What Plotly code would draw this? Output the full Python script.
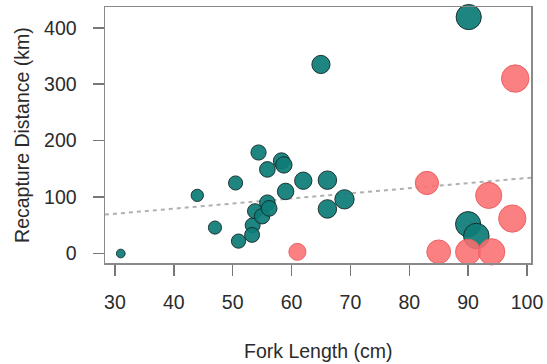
import plotly.graph_objects as go

# Teal group: fork length (cm) and recapture distance (km)
teal_fork_length = [31, 44, 47, 50.5, 51, 53.4, 53.3, 53.8, 55.0, 55.9, 56.2,
                    54.4, 55.9, 58.3, 58.7, 59.0, 62.0, 65.0, 66.1, 66.1, 69.0,
                    90.0, 91.4, 90.1]
teal_distance = [0, 103, 46, 125, 22, 50, 33, 75, 66, 90, 80,
                 179, 149, 164, 157, 110, 129, 335, 130, 79, 96,
                 52, 31, 419]

# Salmon group
salmon_fork_length = [61.0, 83.0, 85.0, 90.0, 94.0, 93.5, 97.5, 98.0]
salmon_distance = [3, 125, 3, 3, 3, 103, 62, 310]

# Trend line
trend_intercept = 43.3
trend_slope = 0.905

x_ticks = [30, 40, 50, 60, 70, 80, 90, 100]
y_ticks = [0, 100, 200, 300, 400]

x_range = [28.32, 100.68]
y_range = [-16.8, 436.8]

SIZE_SCALE = 0.28
FONT = "Liberation Sans, Arial, Helvetica, sans-serif"
TEXT_COLOR = "#2b2b2b"
FS = 19.5

fig = go.Figure()

fig.add_trace(go.Scatter(
    x=[x_range[0], x_range[1]],
    y=[trend_intercept + trend_slope * x_range[0], trend_intercept + trend_slope * x_range[1]],
    mode="lines",
    line=dict(color="#b0b0b0", width=2, dash="4px,4px"),
    hoverinfo="skip", showlegend=False,
))

fig.add_trace(go.Scatter(
    x=teal_fork_length, y=teal_distance, mode="markers",
    marker=dict(size=[v * SIZE_SCALE for v in teal_fork_length], sizemode="diameter",
                color="rgba(14,124,119,0.93)", opacity=1,
                line=dict(color="rgba(20,40,40,0.9)", width=1)),
    cliponaxis=False, showlegend=False,
))

fig.add_trace(go.Scatter(
    x=salmon_fork_length, y=salmon_distance, mode="markers",
    marker=dict(size=[v * SIZE_SCALE for v in salmon_fork_length], sizemode="diameter",
                color="rgba(250,110,112,0.88)", opacity=1,
                line=dict(color="rgba(235,90,92,0.9)", width=1)),
    cliponaxis=False, showlegend=False,
))

axis_common = dict(
    showline=True, mirror=True, linecolor="#8a8a8a", linewidth=1.5,
    ticks="outside", ticklen=11, tickwidth=1.5, tickcolor="#777777",
    showgrid=False, zeroline=False, automargin=False,
    tickfont=dict(family=FONT, size=FS, color=TEXT_COLOR),
)

fig.update_xaxes(range=x_range, tickvals=x_ticks, ticktext=[str(v) for v in x_ticks],
                 ticklabelstandoff=10, **axis_common)
fig.update_yaxes(range=y_range, tickvals=y_ticks, ticktext=[str(v) for v in y_ticks],
                 ticklabelstandoff=12, **axis_common)

fig.update_layout(
    width=547, height=364,
    margin=dict(l=105, r=16, t=7, b=101, autoexpand=False),
    paper_bgcolor="white", plot_bgcolor="white",
    font=dict(family=FONT, size=FS, color=TEXT_COLOR),
    hovermode=False,
    annotations=[
        dict(text="Fork Length (cm)", xref="paper", yref="paper", x=0.5, y=-0.344,
             xanchor="center", yanchor="middle", showarrow=False,
             font=dict(family=FONT, size=FS, color=TEXT_COLOR)),
        dict(text="Recapture Distance (km)", xref="paper", yref="paper", x=-0.195, y=0.5,
             xanchor="center", yanchor="middle", textangle=-90, showarrow=False,
             font=dict(family=FONT, size=FS, color=TEXT_COLOR)),
    ],
)

fig.write_html(
    "out.html",
    config={"displayModeBar": False, "staticPlot": True},
    post_script="document.body.style.margin='0';document.body.style.overflow='hidden';",
)
